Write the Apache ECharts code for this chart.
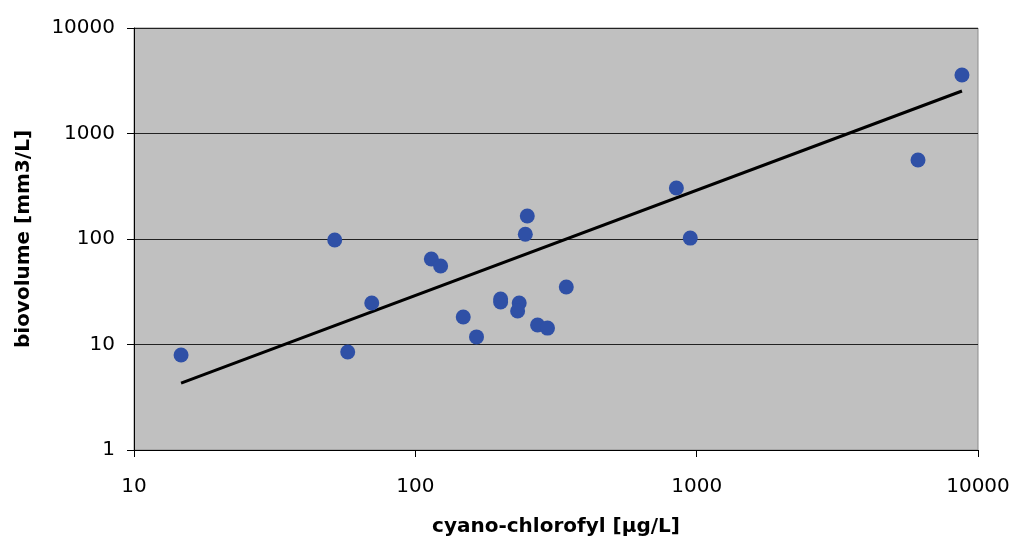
<!DOCTYPE html>
<html>
<head>
<meta charset="utf-8">
<script src="https://cdn.jsdelivr.net/npm/echarts@6/dist/echarts.min.js"></script>
<style>html,body{margin:0;padding:0;background:#fff}#c{width:1013px;height:541px}</style>
</head>
<body>
<div id="c"></div>
<script>
const chlorophyll = [14.7, 51.7, 57.5, 70, 114, 123, 148, 165, 201, 201, 234, 231, 246, 250, 272, 295, 344, 847, 949, 6120, 8770];
const biovolume   = [7.95, 97.8, 8.5, 24.7, 64.6, 55.5, 18.2, 11.8, 27.0, 25.3, 24.7, 20.8, 111, 165, 15.3, 14.3, 35.1, 304, 102, 561, 3585];
const trendX = [14.7, 8770];
const trendY = [4.3, 2530];
const xTitle = 'cyano-chlorofyl [µg/L]';
const yTitle = 'biovolume [mm3/L]';

const points = chlorophyll.map((x, i) => [x, biovolume[i]]);
const trend = trendX.map((x, i) => [x, trendY[i]]);

const chart = echarts.init(document.getElementById('c'), null, {renderer: 'canvas'});
const font = 'DejaVu Sans, sans-serif';
const fmt = v => String(Math.round(v));
chart.setOption({
  animation: false,
  grid: {left: 134, right: 35, top: 28, bottom: 91, outerBoundsMode: 'none', containLabel: false,
         show: true, backgroundColor: '#C0C0C0', borderColor: '#8c8c8c', borderWidth: 1},
  xAxis: {
    type: 'log', logBase: 10, min: 10, max: 10000,
    name: xTitle, nameLocation: 'middle', nameGap: 67,
    nameTextStyle: {fontFamily: font, fontSize: 20, fontWeight: 'bold', color: '#000'},
    axisLine: {show: true, onZero: false, lineStyle: {color: '#000', width: 1}},
    axisTick: {show: true, inside: false, length: 7, lineStyle: {color: '#000'}},
    minorTick: {show: false},
    splitLine: {show: false},
    axisLabel: {fontFamily: font, fontSize: 20, color: '#000', margin: 27, formatter: fmt}
  },
  yAxis: {
    type: 'log', logBase: 10, min: 1, max: 10000,
    name: yTitle, nameLocation: 'middle', nameGap: 100,
    nameTextStyle: {fontFamily: font, fontSize: 20, fontWeight: 'bold', color: '#000'},
    axisLine: {show: true, onZero: false, lineStyle: {color: '#000', width: 1}},
    axisTick: {show: true, inside: false, length: 7, lineStyle: {color: '#000'}},
    splitLine: {show: true, lineStyle: {color: '#222', width: 1}},
    axisLabel: {fontFamily: font, fontSize: 20, color: '#000', margin: 19, formatter: fmt}
  },
  series: [
    {type: 'line', data: trend, symbol: 'none', lineStyle: {color: '#000', width: 3}, z: 2},
    {type: 'scatter', data: points, symbol: 'circle', symbolSize: 15, itemStyle: {color: '#2F50A6', opacity: 1}, z: 3}
  ]
});
</script>
</body>
</html>
